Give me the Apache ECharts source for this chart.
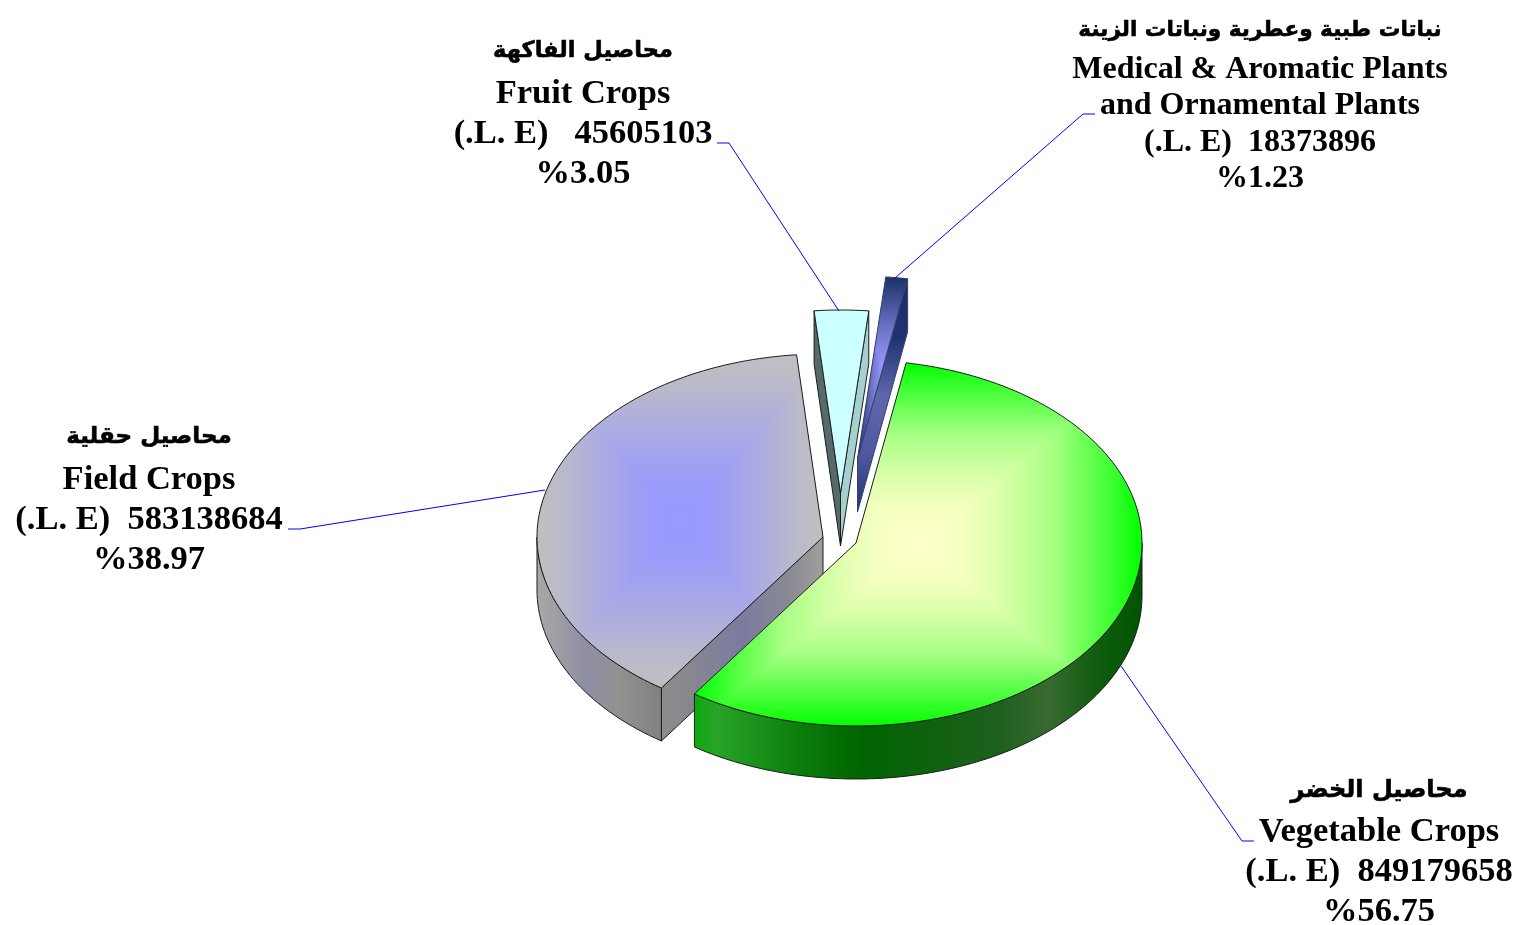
<!DOCTYPE html>
<html><head><meta charset="utf-8">
<style>html,body{margin:0;padding:0;background:#fff}#c{width:1517px;height:925px}</style>
<script src="https://cdn.jsdelivr.net/npm/echarts@6/dist/echarts.min.js"></script>
</head><body><div id="c"></div>
<script>
// ---- chart data (draw order, clockwise) ----
const namesAr = ['محاصيل حقلية', 'محاصيل الفاكهة', 'نباتات طبية وعطرية ونباتات الزينة', 'محاصيل الخضر'];
const namesEn = [['Field Crops'], ['Fruit Crops'], ['Medical & Aromatic Plants', 'and Ornamental Plants'], ['Vegetable Crops']];
const currency = ['(.L. E)  ', '(.L. E)   ', '(.L. E)  ', '(.L. E)  '];
const values = [583138684, 45605103, 18373896, 849179658];
const percents = ['%38.97', '%3.05', '%1.23', '%56.75'];

// ---- layout ----
const START_DEG = 214.4, RX = 286, RY = 183, DEPTH = 53;
const apexes = [[823, 537], [840.5, 493], [857.5, 459], [856, 543]];
const labelLayout = [
  { x: 149, ys: [437, 480, 520, 560], en: 34.5, ar: 23 },
  { x: 583, ys: [51, 94, 134, 174], en: 34.5, ar: 22.5 },
  { x: 1260, ys: [30, 70, 106, 143, 179], en: 32, ar: 21.6 },
  { x: 1379, ys: [791, 832, 872, 912], en: 34.5, ar: 24 }
];
const leaders = [
  [[545, 490], [300, 529], [288, 529]],
  [[839, 311], [729, 143], [717, 143]],
  [[895, 278], [1083, 114], [1095, 114]],
  [[1121, 666], [1242, 841], [1254, 841]]
];
// ---- styling ----
const topFill = [
  [[0, '#9999ff'], [0.2, '#9b9bfc'], [0.35, '#a1a1f2'], [0.5, '#a9a9e6'], [0.65, '#b1b1da'], [0.8, '#b9b9cb'], [1, '#c0c0c0']],
  [[0, '#ccffff'], [1, '#ccffff']],
  [[0, '#9999ff'], [0.45, '#6a72c4'], [1, '#1b2f68']],
  [[0, '#ffffcc'], [0.2, '#f4ffc0'], [0.36, '#dcffac'], [0.6, '#a8ff84'], [0.82, '#50ff40'], [1, '#00ff00']]
];
const cutStart = [
  [[0, '#8c8c8c'], [0.2, '#868690'], [0.5, '#7b7ba2'], [0.8, '#8a8a92'], [1, '#a0a0a0']],
  [[0, '#566b69'], [1, '#566b69']], null, null];
const cutEnd = [null,
  [[0, '#a6d0d0'], [1, '#a6d0d0']],
  [[0, '#1b2e64'], [0.25, '#1f3270'], [0.5, '#5f66ac'], [0.75, '#5058a0'], [1, '#22346f']], null];
const cutEndVertical = [false, false, true, false];
const edgeColor = ['#1c1c1c', '#1c1c1c', '#33406e', '#1c1c1c'];
const rimFill = [
  [[0, '#a8a8a8'], [0.4, '#8e8ea2'], [0.65, '#929292'], [1, '#808080']], null, null,
  [[0, '#0fa80f'], [0.05, '#28a428'], [0.24, '#0a7c0a'], [0.38, '#006400'], [0.68, '#1e601e'], [0.79, '#386a30'], [0.9, '#105c10'], [1, '#005500']]
];

const total = values.reduce((a, b) => a + b, 0);
const rad = d => d * Math.PI / 180;
const pt = (a, deg, dz) => [a[0] + RX * Math.sin(rad(deg)), a[1] - RY * Math.cos(rad(deg)) + (dz || 0)];
function arc(a, d0, d1, dz) {
  const n = Math.max(2, Math.ceil(Math.abs(d1 - d0) / 1.5)), out = [];
  for (let i = 0; i <= n; i++) out.push(pt(a, d0 + (d1 - d0) * i / n, dz));
  return out;
}
const stopsOf = stops => stops.map(s => ({ offset: s[0], color: s[1] }));
const lGrad = (x0, y0, x1, y1, stops) => ({ type: 'linear', x: x0, y: y0, x2: x1, y2: y1, global: true, colorStops: stopsOf(stops) });
function pathGradientFaces(pts, stops) {
  const xs = pts.map(p => p[0]), ys = pts.map(p => p[1]);
  const l = Math.min(...xs), r = Math.max(...xs), t = Math.min(...ys), b = Math.max(...ys);
  const cx = (l + r) / 2, cy = (t + b) / 2;
  const poly = (points, fill) => ({ type: 'polygon', shape: { points }, style: { fill, stroke: null }, silent: true });
  return [
    // upper and lower halves first, then the side wedges over them: no gaps at the diagonals
    poly([[l - 1, t - 1], [r + 1, t - 1], [r + 1, cy + 1], [l - 1, cy + 1]], lGrad(cx, cy, cx, t, stops)),
    poly([[l - 1, cy], [r + 1, cy], [r + 1, b + 1], [l - 1, b + 1]], lGrad(cx, cy, cx, b, stops)),
    poly([[cx, cy], [r + 1, t - 1], [r + 1, b + 1]], lGrad(cx, cy, r, cy, stops)),
    poly([[cx, cy], [l - 1, b + 1], [l - 1, t - 1]], lGrad(cx, cy, l, cy, stops))
  ];
}
const fontEn = s => 'bold ' + s + 'px "Liberation Serif", "Times New Roman", serif';
const fontAr = s => 'bold ' + s + 'px "DejaVu Sans", "Noto Sans", sans-serif';

function renderSlice(params, api) {
  const i = params.dataIndex;
  const before = values.slice(0, i).reduce((a, b) => a + b, 0);
  const d0 = START_DEG + before / total * 360;
  const d1 = d0 + api.value(0) / total * 360;
  const a = apexes[i];
  const kids = [];
  const lineStyle = { stroke: edgeColor[i], lineWidth: 1 };

  const face = (deg, stops, vertical) => {
    const p = pt(a, deg);
    const poly = [a, p, [p[0], p[1] + DEPTH], [a[0], a[1] + DEPTH]];
    const x0 = Math.min(a[0], p[0]), x1 = Math.max(a[0], p[0]);
    const fill = vertical ? lGrad(0, p[1], 0, a[1] + DEPTH, stops) : lGrad(x0, 0, x1, 0, stops);
    kids.push({ type: 'polygon', shape: { points: poly }, style: Object.assign({ fill }, lineStyle) });
  };
  if (Math.sin(rad(d0)) < 0 && cutStart[i]) face(d0, cutStart[i], false);
  if (Math.sin(rad(d1)) > 0 && cutEnd[i]) face(d1, cutEnd[i], cutEndVertical[i]);

  [[90, 270], [450, 630]].forEach(w => {
    const s = Math.max(d0, w[0]), e = Math.min(d1, w[1]);
    if (e > s && rimFill[i]) {
      const upper = arc(a, s, e), lower = arc(a, e, s, DEPTH);
      const xs = upper.map(p => p[0]);
      kids.push({ type: 'polygon', shape: { points: upper.concat(lower) },
        style: Object.assign({ fill: lGrad(Math.min(...xs), 0, Math.max(...xs), 0, rimFill[i]) }, lineStyle) });
    }
  });

  const top = [a].concat(arc(a, d0, d1));
  kids.push({ type: 'group', clipPath: { type: 'polygon', shape: { points: top } },
    children: pathGradientFaces(top, topFill[i]) });
  kids.push({ type: 'polygon', shape: { points: top }, style: Object.assign({ fill: null }, lineStyle) });

  kids.push({ type: 'polyline', shape: { points: leaders[i] }, style: { stroke: '#0000ff', lineWidth: 1, fill: null } });

  const L = labelLayout[i];
  const lines = [namesAr[i]].concat(namesEn[i], [currency[i] + String(api.value(0)), percents[i]]);
  lines.forEach((t, k) => {
    const style = { text: t, x: L.x, y: L.ys[k], align: 'center', verticalAlign: 'middle',
      font: k === 0 ? fontAr(L.ar) : fontEn(L.en), fill: '#000' };
    if (k === 0) { style.stroke = '#000'; style.lineWidth = 0.6; }
    kids.push({ type: 'text', style });
  });
  return { type: 'group', children: kids };
}

const chart = echarts.init(document.getElementById('c'), null, { renderer: 'canvas', width: 1517, height: 925 });
chart.setOption({
  animation: false,
  backgroundColor: '#ffffff',
  series: [{ type: 'custom', coordinateSystem: 'none', silent: true,
    data: values.map(v => [v]), renderItem: renderSlice }]
});
</script></body></html>
